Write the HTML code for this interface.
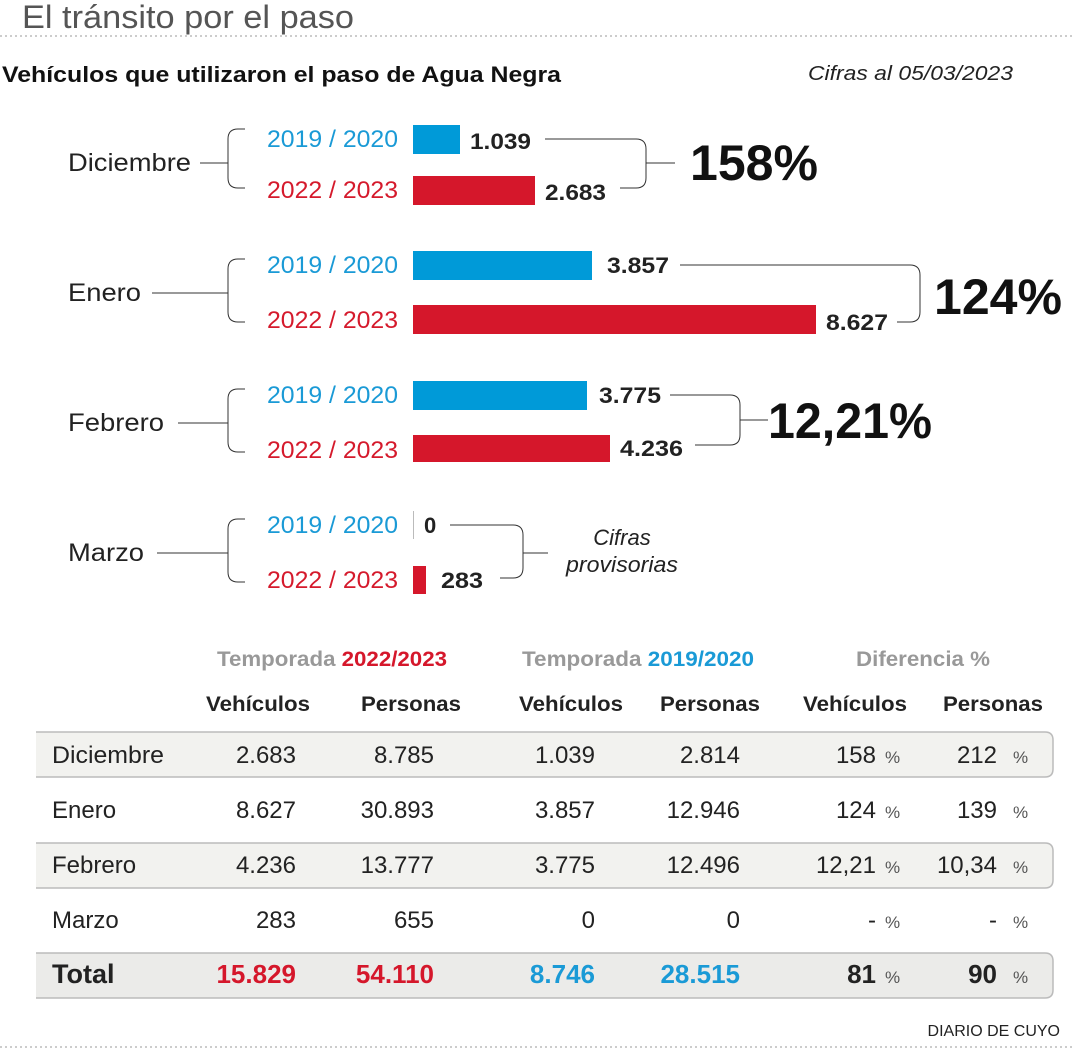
<!DOCTYPE html>
<html><head><meta charset="utf-8"><style>
body{margin:0;background:#fff}
svg{display:block;font-family:"Liberation Sans",Arial,sans-serif}
</style></head><body>
<svg width="1074" height="1049" viewBox="0 0 1074 1049" xmlns="http://www.w3.org/2000/svg">
<text x="22" y="28" font-size="32" fill="#555" textLength="332" lengthAdjust="spacingAndGlyphs">El tránsito por el paso</text>
<line x1="0" y1="36" x2="1074" y2="36" stroke="#999" stroke-width="1" stroke-dasharray="2,3"/>
<text x="2" y="82" font-size="22" font-weight="bold" fill="#111" textLength="559" lengthAdjust="spacingAndGlyphs">Vehículos que utilizaron el paso de Agua Negra</text>
<text x="808" y="80" font-size="20" font-style="italic" fill="#222" textLength="205" lengthAdjust="spacingAndGlyphs">Cifras al 05/03/2023</text>

<g font-size="25" fill="#222">
<text x="68" y="171" textLength="123" lengthAdjust="spacingAndGlyphs">Diciembre</text>
<text x="68" y="301" textLength="73" lengthAdjust="spacingAndGlyphs">Enero</text>
<text x="68" y="431" textLength="96" lengthAdjust="spacingAndGlyphs">Febrero</text>
<text x="68" y="561" textLength="76" lengthAdjust="spacingAndGlyphs">Marzo</text>
</g>
<g fill="none" stroke="#333" stroke-width="1">
<path d="M200 163H228M245 129H238Q228 129 228 139V178Q228 188 238 188H245"/>
<path d="M152 293H228M245 259H238Q228 259 228 269V312Q228 322 238 322H245"/>
<path d="M178 423H228M245 389H238Q228 389 228 399V442Q228 452 238 452H245"/>
<path d="M157 553H228M245 519H238Q228 519 228 529V572Q228 582 238 582H245"/>
<path d="M545 139H636Q646 139 646 149V178Q646 188 636 188H620M646 163H675"/>
<path d="M680 265H910Q920 265 920 275V312Q920 322 910 322H897"/>
<path d="M670 395H730Q740 395 740 405V435Q740 445 730 445H695M740 420H768"/>
<path d="M450 525H513Q523 525 523 535V568Q523 578 513 578H500M523 553H548"/>
</g>
<g font-size="24">
<text x="267" y="147" fill="#1a9ad6" textLength="131" lengthAdjust="spacingAndGlyphs">2019 / 2020</text>
<text x="267" y="198" fill="#d51a2c" textLength="131" lengthAdjust="spacingAndGlyphs">2022 / 2023</text>
<text x="267" y="273" fill="#1a9ad6" textLength="131" lengthAdjust="spacingAndGlyphs">2019 / 2020</text>
<text x="267" y="328" fill="#d51a2c" textLength="131" lengthAdjust="spacingAndGlyphs">2022 / 2023</text>
<text x="267" y="403" fill="#1a9ad6" textLength="131" lengthAdjust="spacingAndGlyphs">2019 / 2020</text>
<text x="267" y="458" fill="#d51a2c" textLength="131" lengthAdjust="spacingAndGlyphs">2022 / 2023</text>
<text x="267" y="533" fill="#1a9ad6" textLength="131" lengthAdjust="spacingAndGlyphs">2019 / 2020</text>
<text x="267" y="588" fill="#d51a2c" textLength="131" lengthAdjust="spacingAndGlyphs">2022 / 2023</text>
</g>
<g fill="#009ad8">
<rect x="413" y="125" width="47" height="29"/>
<rect x="413" y="251" width="179" height="29"/>
<rect x="413" y="381" width="174" height="29"/>
<rect x="413" y="511" width="1" height="28" fill="#bbb"/>
</g>
<g fill="#d5172b">
<rect x="413" y="176" width="122" height="29"/>
<rect x="413" y="305" width="403" height="29"/>
<rect x="413" y="435" width="197" height="27"/>
<rect x="413" y="566" width="13" height="28"/>
</g>
<g font-size="22" font-weight="bold" fill="#222">
<text x="470" y="149" textLength="61" lengthAdjust="spacingAndGlyphs">1.039</text>
<text x="545" y="200" textLength="61" lengthAdjust="spacingAndGlyphs">2.683</text>
<text x="607" y="273" textLength="62" lengthAdjust="spacingAndGlyphs">3.857</text>
<text x="826" y="330" textLength="62" lengthAdjust="spacingAndGlyphs">8.627</text>
<text x="599" y="403" textLength="62" lengthAdjust="spacingAndGlyphs">3.775</text>
<text x="620" y="456" textLength="63" lengthAdjust="spacingAndGlyphs">4.236</text>
<text x="424" y="533">0</text>
<text x="441" y="588" textLength="42" lengthAdjust="spacingAndGlyphs">283</text>
</g>
<g font-size="50" font-weight="bold" fill="#111">
<text x="690" y="180" textLength="128" lengthAdjust="spacingAndGlyphs">158%</text>
<text x="934" y="314" textLength="128" lengthAdjust="spacingAndGlyphs">124%</text>
<text x="768" y="438" textLength="164" lengthAdjust="spacingAndGlyphs">12,21%</text>
</g>
<g font-size="22" font-style="italic" fill="#222" text-anchor="middle">
<text x="622" y="545">Cifras</text>
<text x="622" y="572" textLength="112" lengthAdjust="spacingAndGlyphs">provisorias</text>
</g>

<g font-size="21" font-weight="bold" text-anchor="middle">
<text x="332" y="666" fill="#999" textLength="230" lengthAdjust="spacingAndGlyphs">Temporada <tspan fill="#d5172b">2022/2023</tspan></text>
<text x="638" y="666" fill="#999" textLength="232" lengthAdjust="spacingAndGlyphs">Temporada <tspan fill="#1a9ad6">2019/2020</tspan></text>
<text x="923" y="666" fill="#999" textLength="134" lengthAdjust="spacingAndGlyphs">Diferencia %</text>
<g fill="#222">
<text x="258" y="711" textLength="104" lengthAdjust="spacingAndGlyphs">Vehículos</text><text x="411" y="711" textLength="100" lengthAdjust="spacingAndGlyphs">Personas</text>
<text x="571" y="711" textLength="104" lengthAdjust="spacingAndGlyphs">Vehículos</text><text x="710" y="711" textLength="100" lengthAdjust="spacingAndGlyphs">Personas</text>
<text x="855" y="711" textLength="104" lengthAdjust="spacingAndGlyphs">Vehículos</text><text x="993" y="711" textLength="100" lengthAdjust="spacingAndGlyphs">Personas</text>
</g>
</g>
<g stroke="#bbb" stroke-width="1.5">
<path d="M36 732H1045Q1053 732 1053 740V769Q1053 777 1045 777H36" fill="#f2f2ef"/>
<path d="M36 843H1045Q1053 843 1053 851V880Q1053 888 1045 888H36" fill="#f2f2ef"/>
<path d="M36 953H1045Q1053 953 1053 961V990Q1053 998 1045 998H36" fill="#ebebe9"/>
</g>
<g font-size="24" fill="#222">
<text x="52" y="763" textLength="112" lengthAdjust="spacingAndGlyphs">Diciembre</text><text x="52" y="818">Enero</text>
<text x="52" y="873">Febrero</text><text x="52" y="928">Marzo</text>
<text x="52" y="983" font-weight="bold" font-size="27">Total</text>
</g>
<g font-size="24" fill="#222" text-anchor="end">
<text x="296" y="763">2.683</text><text x="434" y="763">8.785</text><text x="595" y="763">1.039</text><text x="740" y="763">2.814</text><text x="876" y="763">158</text><text x="997" y="763">212</text>
<text x="296" y="818">8.627</text><text x="434" y="818">30.893</text><text x="595" y="818">3.857</text><text x="740" y="818">12.946</text><text x="876" y="818">124</text><text x="997" y="818">139</text>
<text x="296" y="873">4.236</text><text x="434" y="873">13.777</text><text x="595" y="873">3.775</text><text x="740" y="873">12.496</text><text x="876" y="873">12,21</text><text x="997" y="873">10,34</text>
<text x="296" y="928">283</text><text x="434" y="928">655</text><text x="595" y="928">0</text><text x="740" y="928">0</text><text x="876" y="928">-</text><text x="997" y="928">-</text>
<g font-weight="bold" font-size="26">
<text x="296" y="983" fill="#d5172b">15.829</text><text x="434" y="983" fill="#d5172b">54.110</text>
<text x="595" y="983" fill="#1a9ad6">8.746</text><text x="740" y="983" fill="#1a9ad6">28.515</text>
<text x="876" y="983">81</text><text x="997" y="983">90</text>
</g>
</g>
<g font-size="17" fill="#555">
<text x="885" y="763">%</text><text x="1013" y="763">%</text>
<text x="885" y="818">%</text><text x="1013" y="818">%</text>
<text x="885" y="873">%</text><text x="1013" y="873">%</text>
<text x="885" y="928">%</text><text x="1013" y="928">%</text>
<text x="885" y="983">%</text><text x="1013" y="983">%</text>
</g>
<text x="1060" y="1036" font-size="16" fill="#222" text-anchor="end">DIARIO DE CUYO</text>
<line x1="0" y1="1047" x2="1074" y2="1047" stroke="#999" stroke-width="1" stroke-dasharray="2,3"/>
</svg>
</body></html>
